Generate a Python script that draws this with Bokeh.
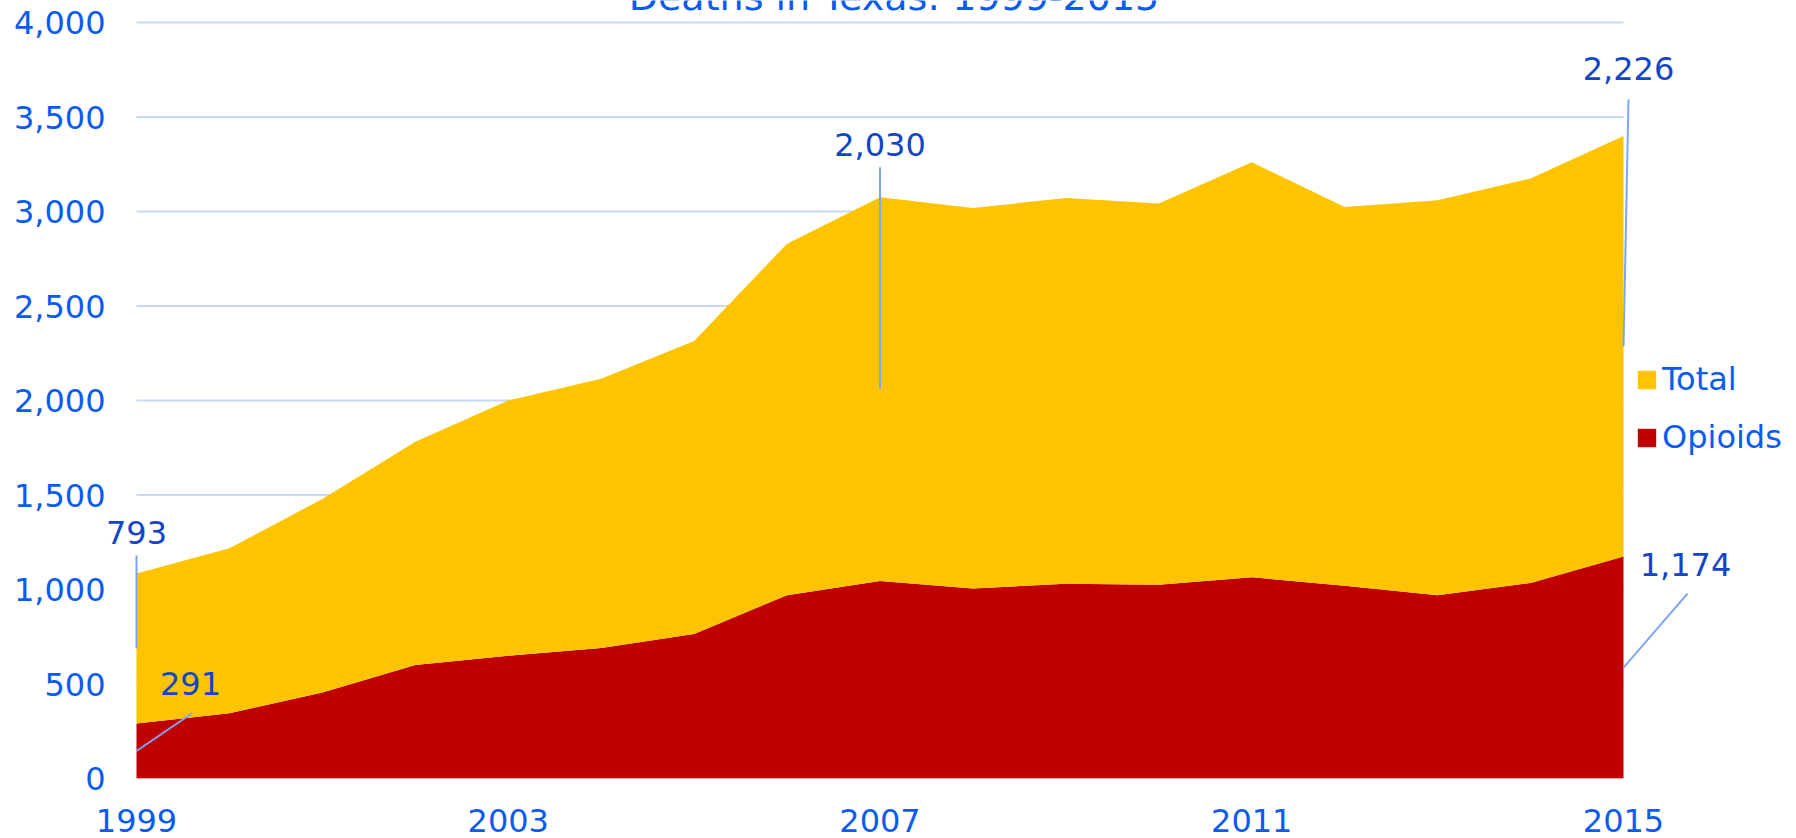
from bokeh.plotting import figure
from bokeh.models import (ColumnDataSource, Range1d, FixedTicker, NumeralTickFormatter,
                          Legend, LegendItem, Label, Arrow)
from bokeh.embed import file_html
from bokeh.resources import INLINE

# ---------------- data ----------------
years = list(range(1999, 2016))
opioids = [291, 345, 455, 600, 650, 690, 765, 970, 1045, 1005, 1030, 1025, 1065, 1020, 970, 1035, 1174]
total = [793, 873, 1024, 1182, 1350, 1425, 1550, 1860, 2030, 2013, 2042, 2017, 2195, 2004, 2090, 2140, 2226]
x_ticks = [1999, 2003, 2007, 2011, 2015]
y_ticks = [0, 500, 1000, 1500, 2000, 2500, 3000, 3500, 4000]
title_text = "Deaths in Texas: 1999-2015"
legend_names = ["Total", "Opioids"]
# data labels shown: (series, year)
labelled_points = [("Total", 1999), ("Opioids", 1999), ("Total", 2007), ("Total", 2015), ("Opioids", 2015)]

# ---------------- style ----------------
FONT = "DejaVu Sans"
FS = "32px"
TICK_COLOR = "#0B5BF0"
LABEL_COLOR = "#1146C6"
LEADER_COLOR = "#7DA5F5"
GRID_COLOR = "#C7D9F8"
YELLOW = "#FFC400"
RED = "#C00000"
W, H = 1796, 838
# pixel box of the data area (years[0]..years[-1], y_ticks[0]..y_ticks[-1])
PL, PR, PT, PB = 136, 1623, 22, 778
FL = 80                      # frame left edge (room for the left-hand label)
px_per_year = (PR - PL) / (years[-1] - years[0])
px_per_unit = (PB - PT) / (y_ticks[-1] - y_ticks[0])
x_start = years[0] - (PL - FL) / px_per_year
x_end = years[-1] + (W - PR) / px_per_year
y_end = y_ticks[-1] + PT / px_per_unit

# pixel offsets (right, up) for label baseline centre and leader-line end
BASE_FIX = 13
label_offsets = [(0, 103 + BASE_FIX), (54, 55 + BASE_FIX), (0, 232 + BASE_FIX),
                 (5, 265 + BASE_FIX), (62, 90 + BASE_FIX)]
leader_offsets = [(0, 93), (56, 38), (0, 222), (5, 247), (64, 74)]

src = ColumnDataSource(dict(year=years, Opioids=opioids, Total=total))

p = figure(width=W, height=H, output_backend="svg", toolbar_location=None,
           x_range=Range1d(x_start, x_end), y_range=Range1d(y_ticks[0], y_end),
           min_border_left=FL, min_border_right=0, min_border_top=0, min_border_bottom=H - PB)
p.outline_line_color = None
p.background_fill_color = "white"
p.border_fill_color = "white"
p.xgrid.grid_line_color = None
p.ygrid.grid_line_color = None

# horizontal gridlines spanning only the data years
p.segment(x0=[years[0]] * len(y_ticks), x1=[years[-1]] * len(y_ticks), y0=y_ticks, y1=y_ticks,
          line_color=GRID_COLOR, line_width=2)

rs = p.varea_stack(["Opioids", "Total"], x="year", source=src, color=[RED, YELLOW])
r_op, r_tot = rs

# axes
for ax in (p.xaxis[0], p.yaxis[0]):
    ax.axis_line_color = None
    ax.major_tick_line_color = None
    ax.minor_tick_line_color = None
    ax.major_tick_out = 0
    ax.major_tick_in = 0
    ax.major_label_text_font = FONT
    ax.major_label_text_font_size = FS
    ax.major_label_text_color = TICK_COLOR
p.xaxis.ticker = FixedTicker(ticks=x_ticks)
p.yaxis.ticker = FixedTicker(ticks=y_ticks)
p.yaxis.formatter = NumeralTickFormatter(format="0,0")
p.xaxis.major_label_standoff = 30
p.yaxis.major_label_standoff = FL - 105

# title (partially cut at the top like the reference)
p.add_layout(Label(x=(years[0] + years[-1]) / 2, y=y_ticks[-1], x_offset=14, y_offset=10 + 16,
                   text=title_text, text_font=FONT, text_font_size="38px",
                   text_color=TICK_COLOR, text_align="center", text_baseline="alphabetic"))

# data labels with leader lines
for (series, yr), (ldx, ldy), (edx, edy) in zip(labelled_points, label_offsets, leader_offsets):
    i = years.index(yr)
    if series == "Opioids":
        v = opioids[i]
        mid = opioids[i] / 2
    else:
        v = total[i]
        mid = opioids[i] + total[i] / 2
    p.add_layout(Arrow(end=None, x_start=yr, y_start=mid,
                       x_end=yr + edx / px_per_year, y_end=mid + edy / px_per_unit,
                       line_color=LEADER_COLOR, line_width=2))
    p.add_layout(Label(x=yr, y=mid, x_offset=ldx, y_offset=ldy, text=f"{v:,}",
                       text_font=FONT, text_font_size=FS, text_color=LABEL_COLOR,
                       text_align="center", text_baseline="alphabetic"))

legend = Legend(items=[LegendItem(label=legend_names[0], renderers=[r_tot]),
                       LegendItem(label=legend_names[1], renderers=[r_op])],
                location=(1635 - FL, 322), orientation="vertical",
                glyph_width=23, glyph_height=23, label_standoff=4, spacing=20,
                padding=0, margin=0, border_line_color=None, background_fill_alpha=0,
                label_text_font=FONT, label_text_font_size=FS,
                label_text_color=TICK_COLOR)
p.add_layout(legend)

open("out.html", "w").write(file_html(p, INLINE))
